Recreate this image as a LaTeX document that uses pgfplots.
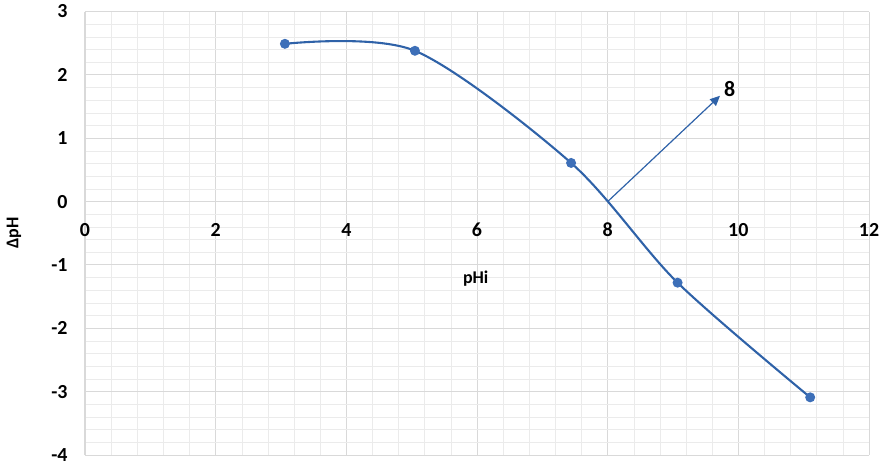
\documentclass[border=0pt]{standalone}
\usepackage{fontspec}
\setmainfont{Carlito}
\usepackage{pgfplots}
\pgfplotsset{compat=1.18}
\usetikzlibrary{arrows.meta}
\definecolor{lineblue}{HTML}{2F62A8}
\definecolor{markblue}{HTML}{3D6FB8}
\definecolor{majgrid}{HTML}{D9D9D9}
\definecolor{mingrid}{HTML}{EBEBEB}
\begin{document}
\begin{tikzpicture}
\begin{axis}[
  name=main,
  scale only axis,
  width=784bp, height=443.5bp,
  xmin=0, xmax=12, ymin=-4, ymax=3,
  axis x line*=middle, axis y line*=left,
  axis line style={-, draw=majgrid, line width=1.2pt},
  xtick={0,2,...,12}, ytick={-4,-3,...,3},
  minor x tick num=4, minor y tick num=4,
  grid=both,
  major grid style={draw=majgrid, line width=1pt},
  minor grid style={draw=mingrid, line width=0.6pt},
  major tick length=0pt, minor tick length=0pt,
  hide obscured x ticks=false, hide obscured y ticks=false,
  /pgf/number format/assume math mode=true,
  ticklabel style={font=\fontsize{20}{24}\selectfont\bfseries, text=black},
  xticklabel style={yshift=-18bp},
  yticklabel style={xshift=-14bp},
  clip=false,
]
\addplot [smooth, lineblue, line width=2.1pt, mark=*, mark size=3.9pt,
  mark options={fill=markblue, draw=markblue}]
  coordinates {(3.06,2.49) (5.05,2.38) (7.44,0.61) (9.07,-1.28) (11.1,-3.09)};
\addplot [lineblue, line width=1.2pt, -{Triangle[length=10bp, width=9bp]}]
  coordinates {(8,0) (9.72,1.67)};
\node [font=\fontsize{22}{26}\selectfont\bfseries, anchor=west, inner sep=0pt]
  at (axis cs:9.78,1.78) {8};
\node [font=\fontsize{18}{22}\selectfont\bfseries] at (axis cs:5.98,-1.22) {pHi};
\node [font=\fontsize{18}{22}\selectfont\bfseries, rotate=90, inner sep=0pt]
  at ([xshift=-71bp]rel axis cs:0,0.5) {ΔpH};
\end{axis}
\pgfresetboundingbox
\path ([shift={(-85bp,-14bp)}]main.south west) rectangle ([shift={(18bp,11.5bp)}]main.north east);
\end{tikzpicture}
\end{document}
